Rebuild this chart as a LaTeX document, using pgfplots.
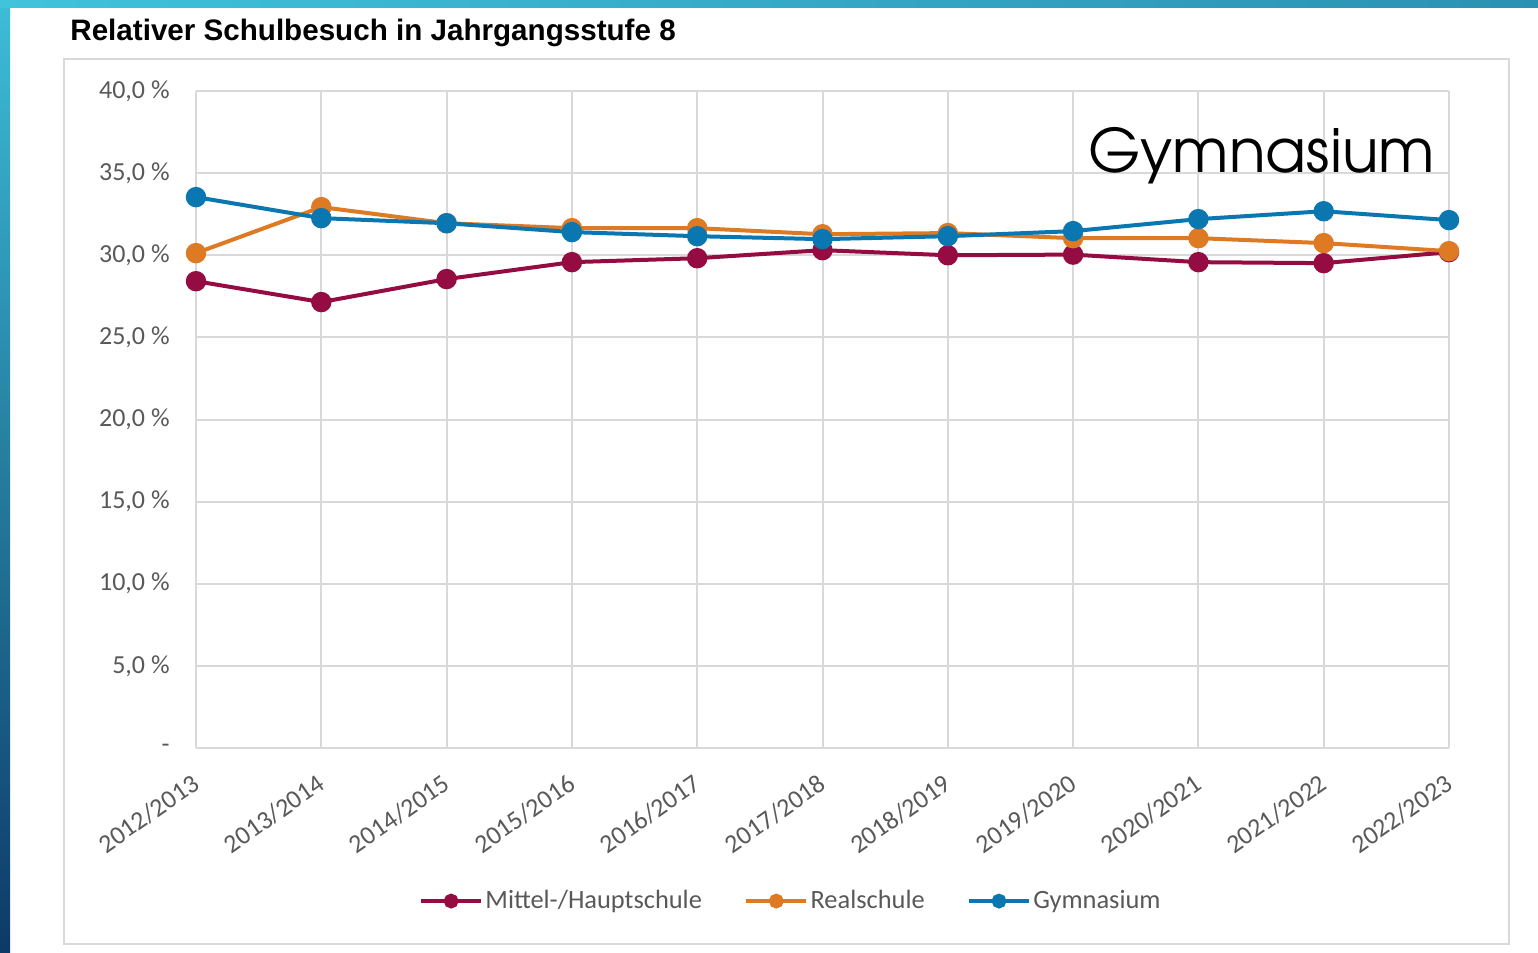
\documentclass[border=0pt]{standalone}
\usepackage{pgfplots}
\pgfplotsset{compat=1.18}
\usepackage{fontspec}
\setmainfont{Carlito}
\newfontfamily\titlefont{Liberation Sans}
\newfontfamily\bigfont{TeX Gyre Adventor}
\definecolor{cM}{HTML}{940C42}
\definecolor{cR}{HTML}{DE7A24}
\definecolor{cG}{HTML}{0B77B1}
\definecolor{txt}{HTML}{595959}
\definecolor{grd}{HTML}{D9D9D9}
\pgfplotstableread{
x M R G
0 28.42 30.13 33.54
1 27.15 32.93 32.26
2 28.55 31.95 31.95
3 29.58 31.65 31.41
4 29.82 31.65 31.16
5 30.31 31.28 30.98
6 30.00 31.35 31.16
7 30.04 31.04 31.47
8 29.58 31.04 32.20
9 29.52 30.74 32.68
10 30.19 30.25 32.14
}\datatable
\begin{document}
\begin{tikzpicture}
\begin{scope}[x=0.5pt,y=-0.5pt]
\path[use as bounding box, fill=white] (0,0) rectangle (1538,953);
\shade[top color={rgb,255:red,61;green,189;blue,214}, middle color={rgb,255:red,40;green,138;blue,170}, bottom color={rgb,255:red,13;green,58;blue,103}] (0,0) rectangle (10,953);
\shade[left color={rgb,255:red,64;green,195;blue,219}, right color={rgb,255:red,43;green,145;blue,178}] (0,0) rectangle (1538,7);
\draw[grd, line width=1pt] (64,59) rectangle (1509,944);
\node[anchor=base west, inner sep=0pt, font=\titlefont\bfseries\fontsize{14.8}{16}\selectfont] at (70,40) {Relativer Schulbesuch in Jahrgangsstufe 8};
\end{scope}
\begin{axis}[
  at={(98pt,-374pt)}, anchor=south west, scale only axis,
  width=626.5pt, height=328.5pt,
  xmin=0, xmax=10, ymin=0, ymax=40,
  xtick={0,...,10},
  xticklabels={2012/2013,2013/2014,2014/2015,2015/2016,2016/2017,2017/2018,2018/2019,2019/2020,2020/2021,2021/2022,2022/2023},
  ytick={0,5,...,40},
  yticklabels={-,{5,0 \%},{10,0 \%},{15,0 \%},{20,0 \%},{25,0 \%},{30,0 \%},{35,0 \%},{40,0 \%}},
  grid=major, major grid style={grd, line width=1pt},
  axis line style={draw=none}, major tick length=0pt,
  tick label style={font=\fontsize{13}{15}\selectfont, text=txt},
  xticklabel style={rotate=35, anchor=north east, inner sep=0pt, xshift=-9.2pt, yshift=-8.5pt},
  yticklabel style={inner sep=0pt, xshift=-13pt},
  clip=false,
  legend columns=3,
  legend style={draw=none, fill=none, at={(0.475,-0.233)}, anchor=center,
    font=\fontsize{13.2}{15}\selectfont, text=txt,
    /tikz/every even column/.append style={column sep=20pt},
    inner sep=0pt, nodes={inner sep=1.25pt}},
  legend image code/.code={\draw[mark repeat=2,mark phase=2,#1,line width=1.8pt,mark size=2.8pt] plot coordinates {(0pt,0pt) (15pt,0pt) (30pt,0pt)};},
  every axis plot/.append style={line width=2pt, mark=*, mark size=4.1pt},
]
\addplot[cM] table[x=x,y=M] {\datatable};
\addlegendentry{Mittel-/Hauptschule}
\addplot[cR] table[x=x,y=R] {\datatable};
\addlegendentry{Realschule}
\addplot[cG] table[x=x,y=G] {\datatable};
\addlegendentry{Gymnasium}
\end{axis}
\node[anchor=base west, inner sep=0pt, font=\bigfont\fontsize{30}{32}\selectfont] at (544pt,-86pt) {Gymnasium};
\end{tikzpicture}
\end{document}
